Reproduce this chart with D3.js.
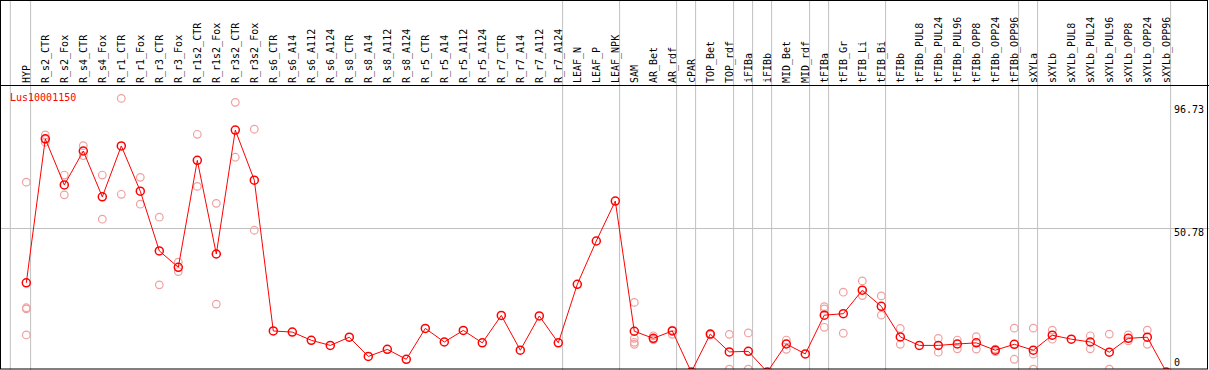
<!DOCTYPE html>
<html>
<head>
<meta charset="utf-8">
<script src="https://cdn.jsdelivr.net/npm/d3@7"></script>
<style>
  body { margin: 0; background: #fff; }
  text { font-family: "DejaVu Sans Mono", monospace; font-size: 10px; }
</style>
</head>
<body>
<div id="chart"></div>
<script>
// column names (one per condition)
const categories = ["HYP","R_s2_CTR","R_s2_Fox","R_s4_CTR","R_s4_Fox","R_r1_CTR","R_r1_Fox","R_r3_CTR","R_r3_Fox",
  "R_r1s2_CTR","R_r1s2_Fox","R_r3s2_CTR","R_r3s2_Fox","R_s6_CTR","R_s6_A14","R_s6_A112","R_s6_A124",
  "R_s8_CTR","R_s8_A14","R_s8_A112","R_s8_A124","R_r5_CTR","R_r5_A14","R_r5_A112","R_r5_A124",
  "R_r7_CTR","R_r7_A14","R_r7_A112","R_r7_A124","LEAF_N","LEAF_P","LEAF_NPK","SAM","AR_Bet","AR_rdf",
  "cPAR","TOP_Bet","TOP_rdf","iFIBa","iFIBb","MID_Bet","MID_rdf","tFIBa","tFIB_Gr","tFIB_Li","tFIB_Bi",
  "tFIBb","tFIBb_PUL8","tFIBb_PUL24","tFIBb_PUL96","tFIBb_OPP8","tFIBb_OPP24","tFIBb_OPP96",
  "sXYLa","sXYLb","sXYLb_PUL8","sXYLb_PUL24","sXYLb_PUL96","sXYLb_OPP8","sXYLb_OPP24","sXYLb_OPP96"];

// mean expression per column
const means = [31.5,82.4,66.1,78.1,61.9,79.9,63.9,42.8,37.0,74.8,41.7,85.5,67.8,14.5,14.1,11.2,9.4,
  12.3,5.5,8.0,4.5,15.4,10.6,14.7,10.3,20.0,7.7,19.8,10.3,31.0,46.3,60.4,14.4,11.9,14.5,
  0,13.4,7.1,7.3,0,9.9,6.4,20.1,20.6,28.9,23.2,
  12.4,9.4,9.4,9.9,10.3,7.7,9.8,
  7.7,13.0,11.6,10.6,7.0,11.9,12.3,0];

// single replicates per column (empty where none are shown)
const replicates = [[67.1,22.7,22.3,13.1],[83.8,81.2,82.2],[69.6,62.6],[80.0,76.5],[69.6,54.0],[96.7,62.8],[68.8,59.3],
  [54.7,30.8],[38.8,35.5],[84.0,65.6],[59.6,24.0],[95.3,75.9],[85.8,50.1],
  [],[],[],[],[],[],[],[],[],[],[],[],[],[],[],[],[],[],[],
  [24.6,11.9,10.5,9.8],[12.8,11.5,11.4],[14.8,13.3],[],[13.5,13.1],[13.3,1.0],[13.8,1.0],[],[11.3,8.0],[],
  [23.1,22.3,15.8],[28.2,13.7],[32.2,27.0],[26.9,20.1],
  [15.4,9.8],[],[11.9,7.0],[11.3,8.2],[12.5,8.1],[8.1,7.2],[15.5,4.5],
  [15.5,6.3,1.0],[14.8,11.6],[],[12.8,8.2],[13.4,1.0],[13.1,11.0],[14.8,9.8],[]];

// last column of every group (a separator follows it)
const groupEnds = ["HYP","R_r7_A124","LEAF_NPK","AR_rdf","cPAR","TOP_rdf","iFIBa","iFIBb","MID_rdf",
  "tFIBa","tFIB_Bi","tFIBb_OPP96","sXYLa","sXYLb_OPP96"];

const yTicks = [96.73, 50.78, 0];
const geneName = "Lus10001150";

const width = 1209, height = 370;
const headerH = 85, plotBottom = 369;

const svg = d3.select("#chart").append("svg")
  .attr("width", width)
  .attr("height", height);

const x = d3.scalePoint().domain(categories).range([26.3, 1166.3]);
const y = d3.scaleLinear().domain([0, 96.73]).range([372, 98.3]);

svg.append("defs").append("clipPath").attr("id", "plotClip")
  .append("rect").attr("x", 1).attr("y", headerH).attr("width", width - 2).attr("height", plotBottom - headerH);

// separators between groups
svg.append("line")
  .attr("x1", x("HYP") - 16).attr("x2", x("HYP") - 16)
  .attr("y1", 0).attr("y2", height)
  .attr("stroke", "#c0c0c0");
svg.selectAll(".sep").data(groupEnds).join("line")
  .attr("class", "sep")
  .attr("x1", d => x(d) + 4.3).attr("x2", d => x(d) + 4.3)
  .attr("y1", 0).attr("y2", height)
  .attr("stroke", "#c0c0c0");

// middle gridline
svg.append("line")
  .attr("x1", 0).attr("x2", width)
  .attr("y1", Math.round(y(50.78)) + 0.5).attr("y2", Math.round(y(50.78)) + 0.5)
  .attr("stroke", "#c0c0c0");

// column labels
svg.selectAll(".cat").data(categories).join("text")
  .attr("class", "cat")
  .attr("transform", d => `translate(${x(d) + 3.5},83) rotate(-90)`)
  .attr("fill", "#000")
  .text(d => d);

// y labels on the right
svg.selectAll(".ytick").data(yTicks).join("text")
  .attr("class", "ytick")
  .attr("x", 1174)
  .attr("y", d => Math.min(Math.max(y(d) + 8, 113), 366))
  .attr("fill", "#000")
  .text(d => d);

const plot = svg.append("g").attr("clip-path", "url(#plotClip)");

// replicates
const reps = [];
replicates.forEach((vals, i) => vals.forEach(v => reps.push({ c: categories[i], v })));
plot.selectAll(".rep").data(reps).join("circle")
  .attr("class", "rep")
  .attr("cx", d => x(d.c)).attr("cy", d => y(d.v)).attr("r", 3.8)
  .attr("fill", "none").attr("stroke", "#f0a0a0").attr("stroke-width", 1.2);

// mean line + markers
const line = d3.line().x((d, i) => x(categories[i])).y(d => y(d));
plot.append("path")
  .datum(means)
  .attr("d", line)
  .attr("fill", "none").attr("stroke", "#ff0000").attr("stroke-width", 1);

plot.selectAll(".mean").data(means).join("circle")
  .attr("class", "mean")
  .attr("cx", (d, i) => x(categories[i])).attr("cy", d => y(d)).attr("r", 4)
  .attr("fill", "none").attr("stroke", "#ff0000").attr("stroke-width", 1.5);

// gene name
svg.append("text")
  .attr("x", 10).attr("y", 101)
  .attr("fill", "#ff0000")
  .text(geneName);

// frame
svg.append("rect")
  .attr("x", 0.5).attr("y", 0.5).attr("width", 1207).attr("height", 368.5)
  .attr("fill", "none").attr("stroke", "#000");
svg.append("line")
  .attr("x1", 0).attr("x2", width).attr("y1", headerH + 0.5).attr("y2", headerH + 0.5)
  .attr("stroke", "#000");
</script>
</body>
</html>
